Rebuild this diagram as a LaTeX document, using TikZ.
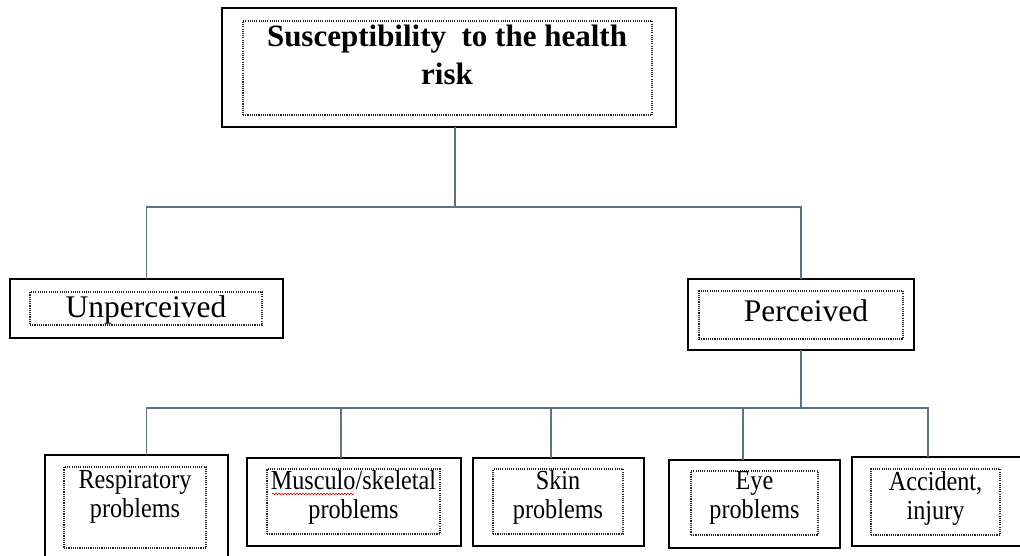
\documentclass[tikz,border=0pt]{standalone}
\usepackage{fontspec}
\setmainfont{Liberation Serif}
\newfontfamily\narrowserif[FakeStretch=0.88]{Liberation Serif}
\usetikzlibrary{decorations.pathmorphing}

\definecolor{linkgray}{HTML}{5E7182}

\begin{document}
\begin{tikzpicture}[x=1pt,y=-1pt,
  frame/.style={draw=black, line width=2pt, anchor=north west, inner sep=0pt, outer sep=0pt},
  dotbox/.style={draw=black!85, line width=1.2pt, dash pattern=on 1.1pt off 1.1pt,
                 anchor=north west, inner sep=0pt, outer sep=0pt},
  link/.style={draw=linkgray, line width=1.5pt},
  smalllabel/.style={inner sep=0pt, align=center, anchor=north,
                     font=\fontsize{27.5}{29}\narrowserif},
  midlabel/.style={inner sep=0pt, anchor=base, font=\fontsize{31.5}{36}\selectfont},
]
\useasboundingbox (0,0) rectangle (1020,555);
\clip (0,0) rectangle (1020,555);
\fill[white] (0,0) rectangle (1020,555);

% top box
\node[frame, minimum width=454pt, minimum height=119pt] (top) at (222,8) {};
\node[dotbox, minimum width=409pt, minimum height=94pt] (topIn) at (243,21) {};
\node[inner sep=0pt, align=center, anchor=north,
      font=\fontsize{31}{38}\selectfont\bfseries] (topTxt) at (447,25)
      {Susceptibility\ \ to the health\\risk};

% second level
\node[frame, minimum width=273pt, minimum height=59pt] (unp) at (10,279) {};
\node[dotbox, minimum width=232pt, minimum height=33pt] (unpIn) at (30,292) {};
\node[midlabel] (unpTxt) at (146,317) {Unperceived};

\node[frame, minimum width=226pt, minimum height=71pt] (per) at (688,279) {};
\node[dotbox, minimum width=204pt, minimum height=48pt] (perIn) at (699,291) {};
\node[midlabel] (perTxt) at (806,321) {Perceived};

% third level
\node[frame, minimum width=183pt, minimum height=110pt] (resp) at (45,455) {};
\node[dotbox, minimum width=142pt, minimum height=81pt] (respIn) at (64,467) {};
\node[smalllabel] (respTxt) at (respIn.north |- 0,470) {Respiratory\\problems};

\node[frame, minimum width=214pt, minimum height=88pt] (mus) at (247,458) {};
\node[dotbox, minimum width=173pt, minimum height=65pt] (musIn) at (267,469) {};
\node[smalllabel] (musTxt) at (musIn.north |- 0,470) {Musculo/skeletal\\problems};
\draw[red!80!black, line width=0.6pt, decorate,
      decoration={snake, amplitude=0.8pt, segment length=3pt}]
      (272,494) -- (354,494);

\node[frame, minimum width=171pt, minimum height=88pt] (skin) at (473,458) {};
\node[dotbox, minimum width=130pt, minimum height=65pt] (skinIn) at (493,469) {};
\node[smalllabel] (skinTxt) at (skinIn.north |- 0,470) {Skin\\problems};

\node[frame, minimum width=171pt, minimum height=88pt] (eye) at (669,460) {};
\node[dotbox, minimum width=127pt, minimum height=64pt] (eyeIn) at (691,471) {};
\node[smalllabel] (eyeTxt) at (eyeIn.north |- 0,471) {Eye\\problems};

\node[frame, minimum width=175pt, minimum height=89pt] (acc) at (852,457) {};
\node[dotbox, minimum width=129pt, minimum height=66pt] (accIn) at (871,469) {};
\node[smalllabel] (accTxt) at (accIn.north |- 0,471) {Accident,\\injury};

% connectors
\coordinate (j1) at (455,207);
\draw[link] (j1 |- top.south) -- (j1);
\draw[link] (unp.north) |- (j1) -| (per.north);

\coordinate (j2) at (801,408);
\draw[link] (per.south) -- (j2);
\draw[link] ([xshift=10pt]resp.north) |- (j2) -| ([xshift=-11.5pt]acc.north);
\draw[link] ([xshift=-13pt]mus.north) -- ([xshift=-13pt]mus.north |- j2);
\draw[link] ([xshift=-7.5pt]skin.north) -- ([xshift=-7.5pt]skin.north |- j2);
\draw[link] ([xshift=-11.5pt]eye.north) -- ([xshift=-11.5pt]eye.north |- j2);
\end{tikzpicture}
\end{document}
